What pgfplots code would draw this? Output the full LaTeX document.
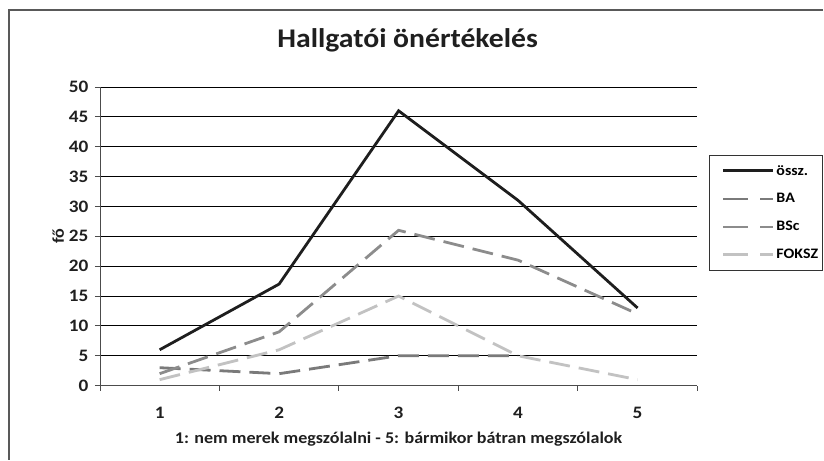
\documentclass[border=0pt]{standalone}
\usepackage{pgfplots}
\pgfplotsset{compat=1.18}
\usepackage{fontspec}
\setmainfont{Carlito}[FakeStretch=1.1]
\definecolor{cossz}{HTML}{1E1E1E}
\definecolor{cba}{HTML}{7A7A7A}
\definecolor{cbsc}{HTML}{8C8C8C}
\definecolor{cfoksz}{HTML}{C2C2C2}
\pgfplotsset{
  dashleg/.style={legend image code/.code={\path (0pt,0pt); \draw[##1,dash pattern=on 25pt off 12pt] (10pt,0pt) -- (60pt,0pt);}},
}
\begin{document}
\begin{tikzpicture}
\path[draw=none,fill=none] (0pt,0pt) rectangle (824pt,460pt);
\draw[color=black!65,line width=1.6pt] (9pt,0pt) -- (9pt,450pt) -- (824pt,450pt);
\node[font=\bfseries\fontsize{27}{30}\selectfont,text=black!88] at (408pt,420pt) {Hallgatói önértékelés};
\begin{axis}[
  at={(100pt,74pt)}, anchor=south west,
  scale only axis, width=598pt, height=299pt,
  xmin=0.5, xmax=5.5, ymin=0, ymax=50,
  ytick distance=5,
  xtick={1,2,3,4,5},
  minor xtick={0.5,1.5,2.5,3.5,4.5,5.5},
  major x tick style={draw=none},
  tick align=outside,
  major tick length=5pt, minor tick length=5pt,
  axis x line*=bottom, axis y line*=left,
  axis line style={black!70,line width=0.8pt},
  every tick/.style={black!70,line width=0.8pt},
  ymajorgrids, grid style={black,line width=0.8pt},
  /pgf/number format/assume math mode=true,
  tick label style={font=\bfseries\fontsize{17.5}{19}\selectfont,text=black!88},
  xticklabel style={yshift=-13pt},
  yticklabel style={xshift=-3pt},
  xlabel={1: nem merek megszólalni - 5: bármikor bátran megszólalok},
  ylabel={fő},
  label style={font=\bfseries\fontsize{16.4}{18}\selectfont,text=black!88},
  xlabel style={yshift=-6pt},
  ylabel style={yshift=-2pt},
  clip=false,
  legend style={at={(rel axis cs:1.0201,0.7726)}, anchor=north west,
    draw=black!80, line width=0.8pt, font=\bfseries\fontsize{14.5}{16}\selectfont,
    row sep=13pt, inner xsep=2pt, inner ysep=8pt},
  legend cell align=left,
  legend image code/.code={\path (0pt,0pt); \draw[#1] (10pt,0pt) -- (60pt,0pt);},
]
\addplot[cossz, line width=2.8pt] coordinates {(1,6) (2,17) (3,46) (4,31) (5,13)};
\addlegendentry{össz.}
\addplot[cba, line width=2.8pt, dash pattern=on 21pt off 9pt, dashleg] coordinates {(1,3) (2,2) (3,5) (4,5)};
\addlegendentry{BA}
\addplot[cbsc, line width=2.8pt, dash pattern=on 21pt off 9pt, dashleg] coordinates {(1,2) (2,9) (3,26) (4,21) (5,12)};
\addlegendentry{BSc}
\addplot[cfoksz, line width=2.8pt, dash pattern=on 21pt off 9pt, dashleg] coordinates {(1,1) (2,6) (3,15) (4,5) (5,1)};
\addlegendentry{FOKSZ}
\end{axis}
\end{tikzpicture}
\end{document}
